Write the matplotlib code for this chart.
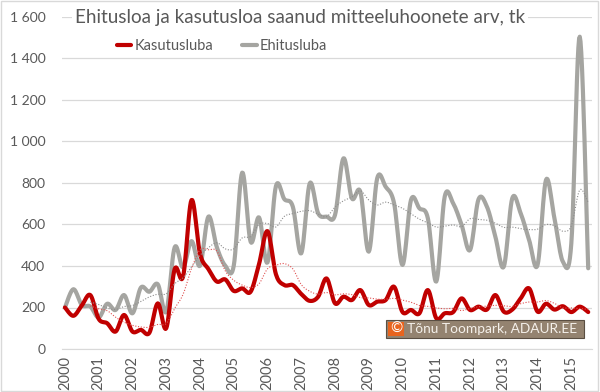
import numpy as np
import matplotlib
matplotlib.use("Agg")
import matplotlib.pyplot as plt
from matplotlib.ticker import FuncFormatter
from matplotlib.patches import Rectangle

plt.rcParams['font.family'] = ['Lato', 'DejaVu Sans']

# quarterly values, 2000 Q1 ... 2015 Q3
years = [str(y) for y in range(2000, 2016)]

kasutusluba = [200, 160, 210, 260, 145, 124, 84, 164, 84, 92, 78, 220,
               100, 385, 350, 718, 460, 385, 325, 335, 280, 292, 276, 410,
               568, 360, 308, 308, 265, 232, 252, 340, 220, 252, 236, 284,
               212, 228, 236, 300, 178, 188, 172, 284, 148, 172, 178, 244,
               188, 204, 190, 260, 180, 190, 244, 292, 180, 218, 190, 206,
               178, 204, 178]

ehitusluba = [200, 288, 212, 205, 152, 218, 188, 260, 172, 296, 276, 312,
              180, 490, 393, 520, 401, 638, 490, 401, 401, 850, 517, 634,
              417, 785, 722, 686, 461, 798, 654, 638, 646, 919, 726, 758,
              469, 823, 782, 702, 405, 718, 678, 630, 325, 735, 702, 598,
              477, 721, 686, 541, 397, 726, 654, 525, 405, 815, 630, 421,
              509, 1505, 389]

RED = '#C00000'
GRAY = '#A5A5A1'
TXT = '#595959'


def smooth(x, y, n=12):
    # excel-like smoothed line (bezier through the points)
    x = np.asarray(x, float)
    y = np.asarray(y, float)
    xs, ys = [], []
    m = len(x)
    for k in range(m - 1):
        k0 = max(k - 1, 0)
        k3 = min(k + 2, m - 1)
        t = np.linspace(0, 1, n, endpoint=False)
        for arr, out in ((x, xs), (y, ys)):
            p0, p1, p2, p3 = arr[k0], arr[k], arr[k + 1], arr[k3]
            b1 = p1 + (p2 - p0) / 6
            b2 = p2 - (p3 - p1) / 6
            out.extend((1 - t) ** 3 * p1 + 3 * (1 - t) ** 2 * t * b1
                       + 3 * (1 - t) * t ** 2 * b2 + t ** 3 * p2)
    xs.append(x[-1])
    ys.append(y[-1])
    return np.array(xs), np.array(ys)


def moving_avg(y, p=4):
    y = np.asarray(y, float)
    return np.convolve(y, np.ones(p) / p, mode='valid')


idx = np.arange(len(kasutusluba))

fig = plt.figure(figsize=(6, 3.92), dpi=100)
ax = fig.add_axes([62 / 600, 1 - 349 / 392, 530 / 600, 332 / 392])

# trend lines (4 period moving average)
ma_idx = idx[3:]
tx, ty = smooth(ma_idx, moving_avg(kasutusluba))
ax.plot(tx, ty, color='#E05050', lw=0.8, ls=(0, (1, 1.5)), zorder=3)
tx, ty = smooth(ma_idx, moving_avg(ehitusluba))
ax.plot(tx, ty, color='#8C8C8C', lw=0.8, ls=(0, (1, 1.5)), zorder=3)

sx, sy = smooth(idx, ehitusluba)
ax.plot(sx, sy, color=GRAY, lw=3.0, label='Ehitusluba', zorder=2,
        solid_capstyle='round')
sx, sy = smooth(idx, kasutusluba)
ax.plot(sx, sy, color=RED, lw=3.0, label='Kasutusluba', zorder=2,
        solid_capstyle='round')

ax.set_xlim(-0.35, 62.45)
ax.set_ylim(0, 1600)
ax.set_yticks(range(0, 1601, 200))
ax.yaxis.set_major_formatter(FuncFormatter(lambda v, p: f'{int(v):,}'.replace(',', ' ')))
ax.set_xticks(range(0, 61, 4))
ax.set_xticklabels(years, rotation=90)

ax.grid(axis='y', color='#D9D9D9', lw=0.9)
ax.set_axisbelow(True)
for s in ['top', 'right', 'left']:
    ax.spines[s].set_visible(False)
ax.spines['bottom'].set_color('#D9D9D9')
ax.tick_params(axis='both', length=0, colors=TXT, labelsize=10.5)
ax.tick_params(axis='y', labelsize=10, pad=12)
ax.tick_params(axis='x', pad=5)

fig.text(300 / 600, 1 - 18 / 392, 'Ehitusloa ja kasutusloa saanud mitteeluhoonete arv, tk',
         ha='center', va='center', fontsize=13.6, color=TXT,
         bbox=dict(facecolor='white', edgecolor='none', pad=2))

handles, labels = ax.get_legend_handles_labels()
fig.legend(handles[::-1], labels[::-1], loc='center',
           bbox_to_anchor=(222 / 600, 1 - 46 / 392), ncol=2, frameon=False,
           fontsize=10.5, handlelength=1.0, handletextpad=0.2,
           columnspacing=2.0, labelcolor=TXT)

# copyright stamp
fig.patches.append(Rectangle((386 / 600, 1 - 338 / 392), 198 / 600, 18 / 392,
                             transform=fig.transFigure, facecolor='#948370',
                             edgecolor='#5A4E42', lw=0.8, zorder=5))
fig.patches.append(Rectangle((388 / 600, 1 - 336 / 392), 16 / 600, 14 / 392,
                             transform=fig.transFigure, facecolor='#E8641E',
                             edgecolor='none', zorder=6))
fig.text(396 / 600, 1 - 329 / 392, '©', ha='center', va='center',
         fontsize=10.5, color='white', zorder=7)
fig.text(407 / 600, 1 - 329 / 392, 'Tõnu Toompark, ADAUR.EE', ha='left',
         va='center', fontsize=9.9, color='#F4F0EA', zorder=7)

fig.patches.append(Rectangle((0.002, 0.003), 0.995, 0.994, transform=fig.transFigure,
                             fill=False, edgecolor='#D9D9D9', lw=1))

fig.savefig('out.png', dpi=100, facecolor='white')
